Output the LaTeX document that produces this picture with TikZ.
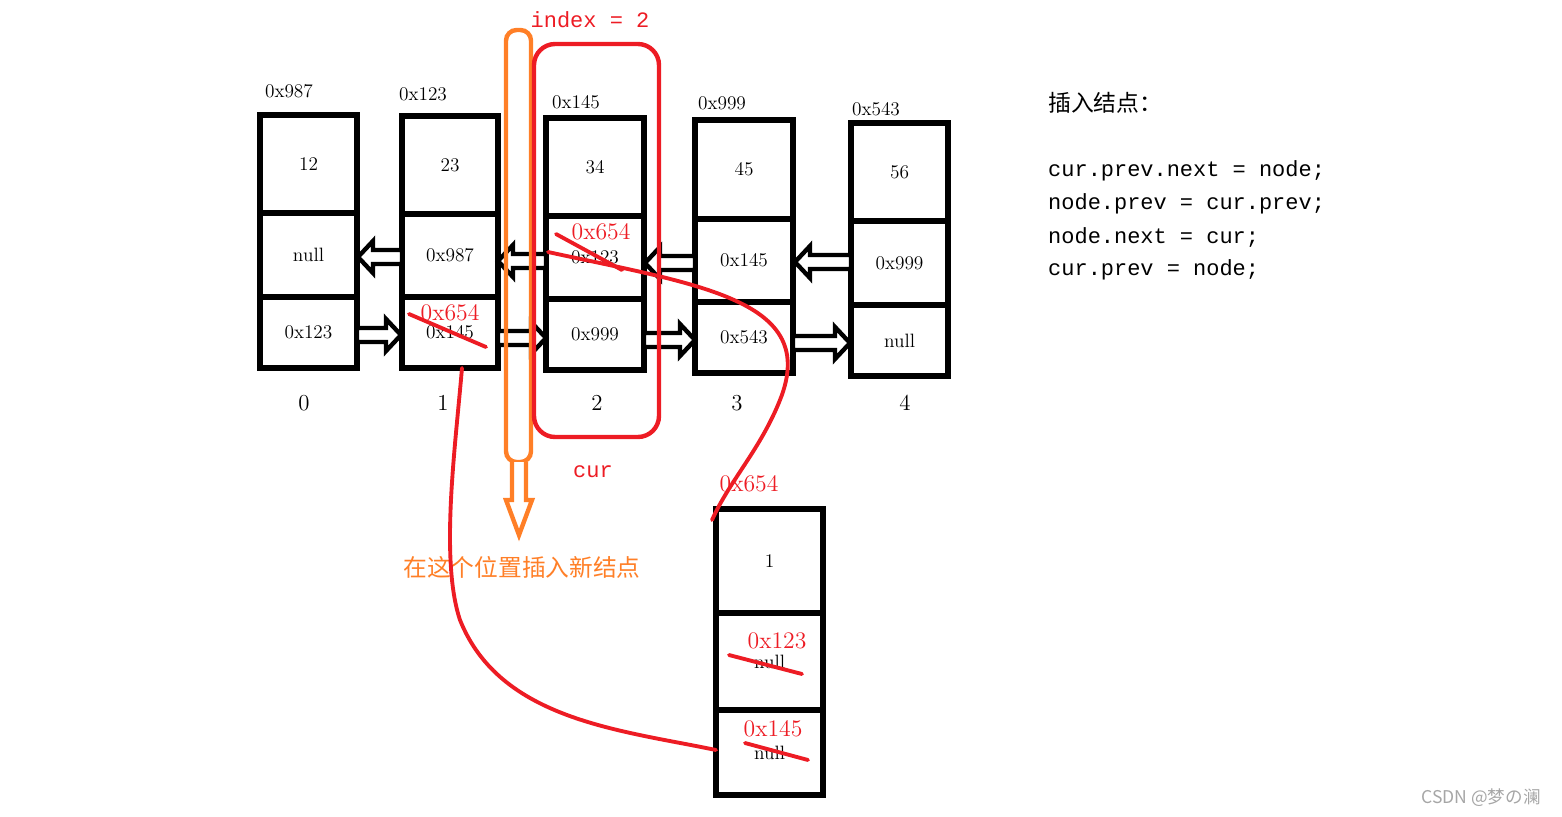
\documentclass[tikz,border=0pt]{standalone}
\usepackage{fontspec}
\newfontfamily\cjk{Noto Sans CJK SC}
\newfontfamily\mono{Liberation Mono}
\usetikzlibrary{calc}
\definecolor{rd}{RGB}{237,28,36}
\definecolor{og}{RGB}{255,127,39}
\tikzset{cellbox/.style={draw,line width=3pt,inner sep=0pt,font=\fontsize{11}{13}\selectfont},
 addr/.style={font=\fontsize{11}{13}\selectfont},
 idx/.style={font=\fontsize{13}{15}\selectfont},
 redtxt/.style={text=rd,font=\fontsize{13.5}{15}\selectfont},
 redline/.style={draw=rd,line width=2.2pt,line cap=round},
 codetxt/.style={anchor=west,font=\mono\fontsize{12.5}{15}\selectfont},
 barrow/.style={draw,line width=2.5pt,fill=white,line join=miter}}
\newcommand{\mycell}[6]{\node[cellbox,minimum width={(#4-#2)*0.02cm},minimum height={(#5-#3)*0.02cm}] (#1) at ({(#2+#4)/2},{(#3+#5)/2}) {#6};}
\newcommand{\harr}[3]{\pgfmathsetmacro\hd{(#2>#1)?1:-1}%
\draw[barrow] (#1,#3-7) -- ({#2-\hd*15},#3-7) -- ({#2-\hd*15},#3-16) -- (#2,#3) -- ({#2-\hd*15},#3+16) -- ({#2-\hd*15},#3+7) -- (#1,#3+7) -- cycle;}
\begin{document}
\begin{tikzpicture}[x=0.02cm,y=-0.02cm]
\useasboundingbox (0,0) rectangle (1562,816);
% node 0
\mycell{a0}{260}{115}{357}{213}{12\hspace{1.2em}}
\mycell{b0}{260}{213}{357}{297}{null}
\mycell{c0}{260}{297}{357}{368}{0x123}
\node[addr] (l0) at (289,91) {0x987};
\node[idx] (i0) at (304,403) {0};
% node 1
\mycell{a1}{402}{116}{498}{214}{23\hspace{0.6em}}
\mycell{b1}{402}{214}{498}{297}{0x987}
\mycell{c1}{402}{297}{498}{368}{0x145}
\node[addr] (l1) at (423,94) {0x123};
\node[idx] (i1) at (443,403) {1};
% node 2
\mycell{a2}{546}{118}{644}{216}{34\hspace{1.6em}}
\mycell{b2}{546}{216}{644}{299}{0x123}
\mycell{c2}{546}{299}{644}{370}{0x999}
\node[addr] (l2) at (576,102) {0x145};
\node[idx] (i2) at (597,403) {2};
% node 3
\mycell{a3}{695}{120}{793}{219}{45\hspace{1.2em}}
\mycell{b3}{695}{219}{793}{302}{0x145}
\mycell{c3}{695}{302}{793}{373}{0x543}
\node[addr] (l3) at (722,103) {0x999};
\node[idx] (i3) at (737,403) {3};
% node 4
\mycell{a4}{851}{123}{948}{221}{56\hspace{1em}}
\mycell{b4}{851}{221}{948}{305}{0x999}
\mycell{c4}{851}{305}{948}{376}{null}
\node[addr] (l4) at (876,109) {0x543};
\node[idx] (i4) at (905,403) {4};
% new node
\mycell{na}{716}{509}{823}{613}{1\hspace{2em}}
\mycell{nb}{716}{613}{823}{710}{null}
\mycell{nc}{716}{710}{823}{795}{null}
% arrows
\harr{402}{358}{257}
\harr{546}{498}{261}
\harr{695}{645}{263}
\harr{851}{795}{262}
\harr{357}{401}{335}
\harr{498}{546}{338}
\harr{644}{695}{340}
\harr{793}{850}{343}
% orange marker
\draw[og,line width=2.5pt,rounded corners=6pt] (506,30) rectangle (531,462);
\draw[og,line width=2.5pt,fill=white,line join=miter] (512,462) -- (512,500) -- (506,500) -- (519,535) -- (532,500) -- (526,500) -- (526,462);
\node[text=og,font=\cjk\fontsize{13.5}{15}\selectfont] (ot) at (522,567) {在这个位置插入新结点};
% red cur box
\draw[rd,line width=2.5pt,rounded corners=12pt] (534,44) rectangle (659,437);
\node[text=rd,font=\mono\fontsize{12.5}{15}\selectfont] (ix) at (590,20) {index = 2};
\node[text=rd,font=\mono\fontsize{12.5}{15}\selectfont] (cur) at (593,472) {cur};
% red annotations
\node[redtxt] (r1) at (450,313) {0x654};
\draw[redline] (409,314) -- (486,347);
\node[redtxt] (r2) at (601,232) {0x654};
\draw[redline] (556,234) -- (622,270);
\node[redtxt] (r3) at (749,484) {0x654};
\node[redtxt] (r4) at (777,641) {0x123};
\draw[redline] (729,655) -- (802,674);
\node[redtxt] (r5) at (773,729) {0x145};
\draw[redline] (745,743) -- (808,760);
\draw[redline] (548,252) .. controls (700,285) and (820,300) .. (780,400) .. controls (760,450) and (730,480) .. (712,520);
\draw[redline] (462,368) .. controls (455,450) and (440,560) .. (460,620) .. controls (500,720) and (620,730) .. (716,750);
% right text
\node[anchor=west,font=\cjk\fontsize{13}{15}\selectfont] (h) at (1042,103) {插入结点：};
\node[codetxt] (c1) at (1042,171) {cur.prev.next = node;};
\node[codetxt] (c2) at (1042,204) {node.prev = cur.prev;};
\node[codetxt] (c3) at (1042,237) {node.next = cur;};
\node[codetxt] (c4) at (1042,270) {cur.prev = node;};
\node[text=gray!70,font=\cjk\fontsize{10}{12}\selectfont] (wm) at (1481,798) {CSDN @梦の澜};
\end{tikzpicture}
\end{document}
